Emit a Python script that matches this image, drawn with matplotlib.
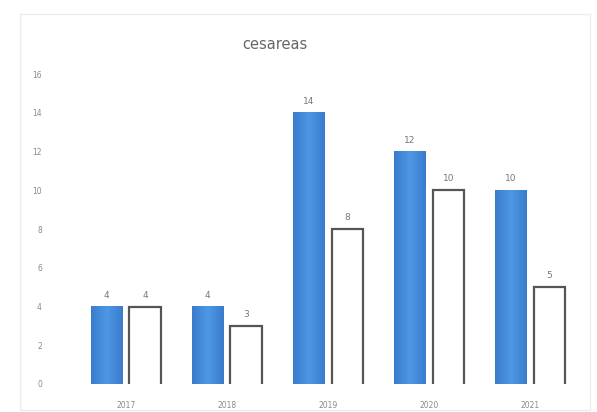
import matplotlib.pyplot as plt
import numpy as np
from matplotlib.patches import Rectangle
from matplotlib.colors import LinearSegmentedColormap

# datos por año
anios = ['2017', '2018', '2019', '2020', '2021']
serie_azul = [4, 4, 14, 12, 10]
serie_blanca = [4, 3, 8, 10, 5]
ticks_y = [0, 2, 4, 6, 8, 10, 12, 14, 16]

fig = plt.figure(figsize=(5.97, 4.12), dpi=100)
fig.patch.set_facecolor('white')

# marco suave alrededor del grafico
fig.patches.append(Rectangle((0.033, 0.005), 0.955, 0.96, transform=fig.transFigure,
                             fill=False, edgecolor='#ececec', linewidth=1.0))

ax = fig.add_axes([0.126, 0.068, 0.847, 0.752])

x = np.arange(len(anios))
ancho = 0.31
b1 = ax.bar(x - 0.19, serie_azul, ancho, color='#4389d8', edgecolor='none')
b2 = ax.bar(x + 0.19, serie_blanca, ancho, color='white', edgecolor='none')

# degradado horizontal en las barras azules
degradado = LinearSegmentedColormap.from_list('azul', ['#3a7ccc', '#4d98e6', '#3a7ccc'])
grad = np.linspace(0, 1, 64).reshape(1, -1)
for b in b1:
    x0, w, h = b.get_x(), b.get_width(), b.get_height()
    ax.imshow(grad, cmap=degradado, extent=[x0, x0 + w, 0, h], aspect='auto', zorder=2)

# contorno de las barras blancas sin linea inferior
for b in b2:
    x0, w, h = b.get_x(), b.get_width(), b.get_height()
    ax.plot([x0, x0, x0 + w, x0 + w], [0, h, h, 0], color='#555555', linewidth=1.6,
            solid_joinstyle='miter', zorder=3)

for barras in (b1, b2):
    for b in barras:
        ax.annotate(str(int(b.get_height())),
                    (b.get_x() + b.get_width() / 2, b.get_height()),
                    xytext=(0, 5), textcoords='offset points',
                    ha='center', va='bottom', fontsize=6.5, color='#777777')

ax.set_xlim(-0.5, len(anios) - 0.5)
ax.set_ylim(0, 16)
ax.set_yticks(ticks_y)
ax.set_yticklabels([str(t) for t in ticks_y])
ax.set_xticks(x)
ax.set_xticklabels(anios)
ax.tick_params(axis='both', length=0, labelsize=5.5, colors='#8a8a8a')
ax.tick_params(axis='y', pad=24)
ax.tick_params(axis='x', pad=12)
for s in ax.spines.values():
    s.set_visible(False)

fig.text(0.461, 0.893, 'cesareas', ha='center', va='center', fontsize=10.5, color='#666666')

fig.savefig('out.png', dpi=100)
